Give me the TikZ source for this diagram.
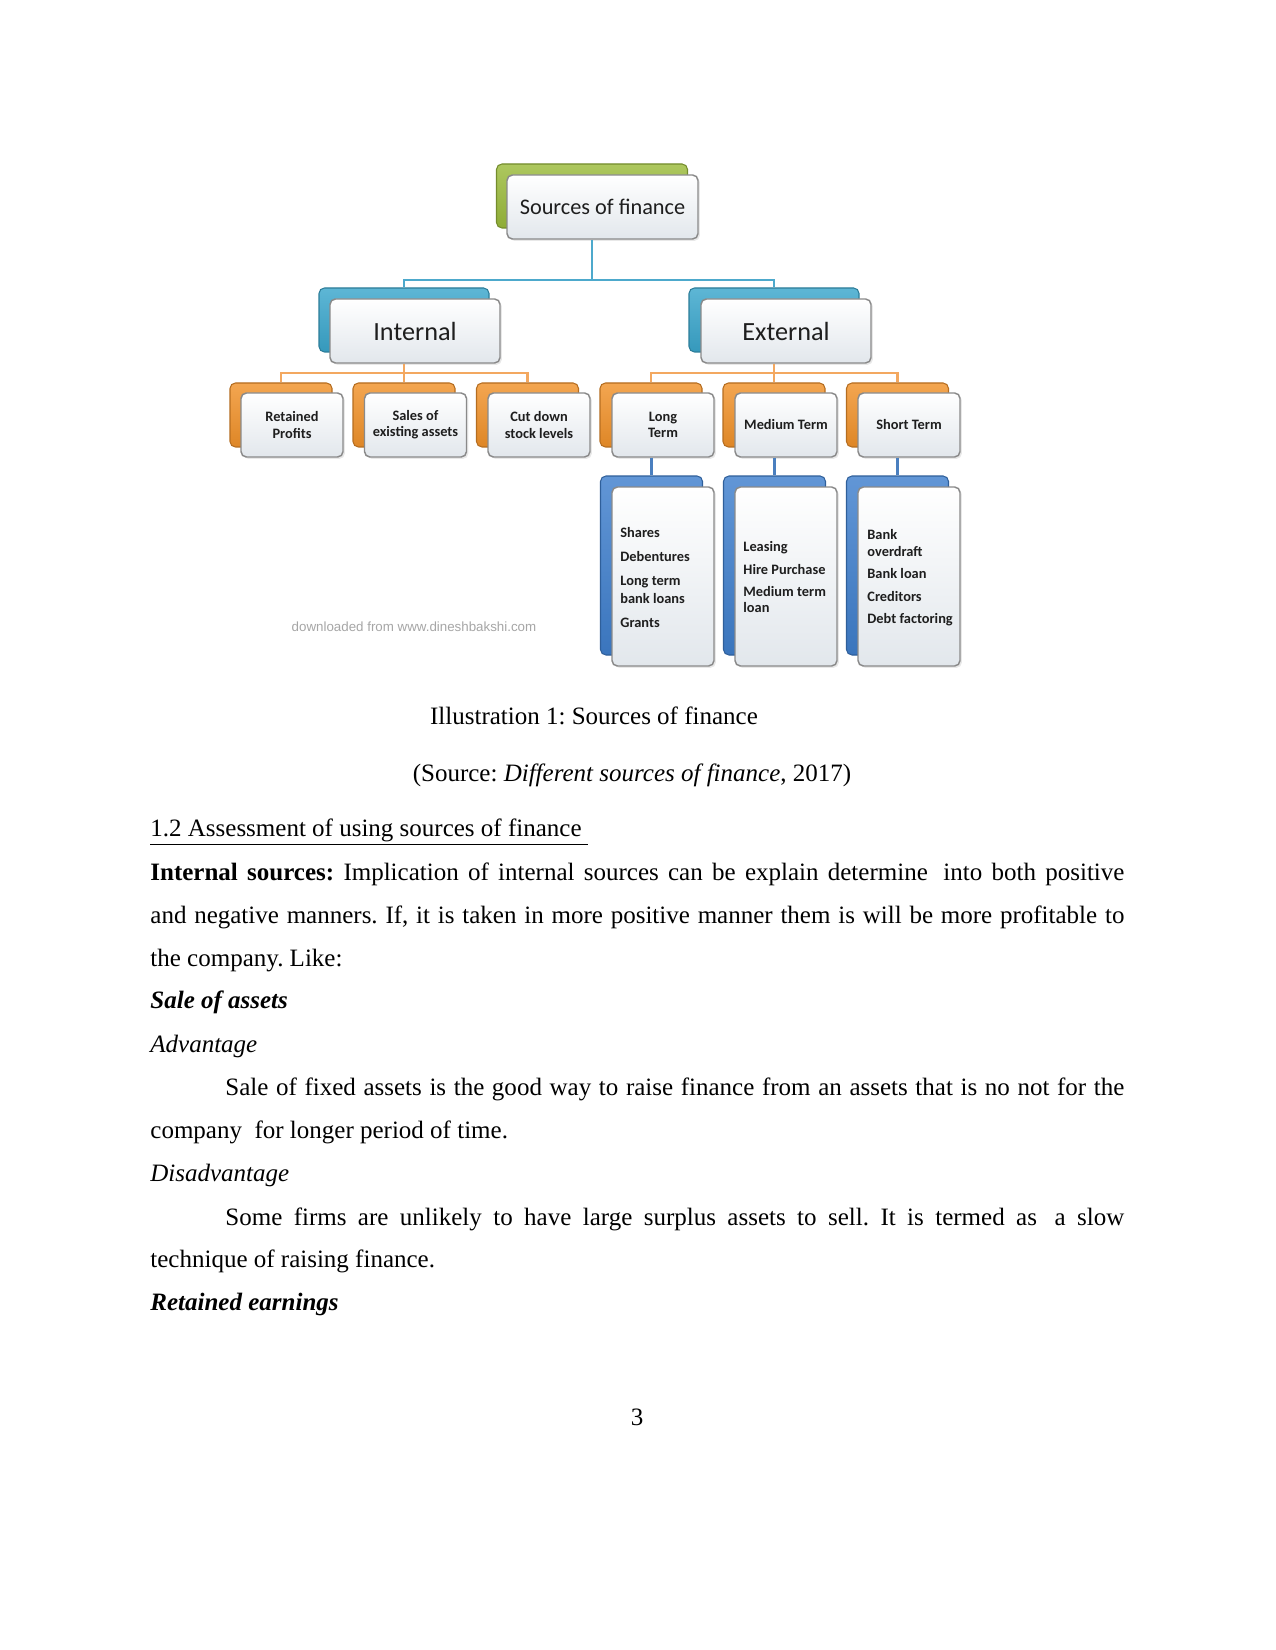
\documentclass[tikz,border=0pt]{standalone}
\usepackage{fontspec}
\setmainfont{Liberation Serif}
\newfontfamily\diagfont{Carlito}
\newfontfamily\wmfont{Liberation Sans}
\usetikzlibrary{shadows,calc}
\frenchspacing
\definecolor{grn}{HTML}{9BBB3B}
\definecolor{cyanb}{HTML}{3AA6CC}
\definecolor{orng}{HTML}{F1922A}
\definecolor{dblue}{HTML}{3F7FCD}
\definecolor{fdraw}{HTML}{8A8A8A}
\definecolor{fbot}{HTML}{E2E7EC}
\definecolor{lcyan}{HTML}{4DA9CC}
\definecolor{lorng}{HTML}{F3A860}
\definecolor{lblue}{HTML}{4A7FBF}
\definecolor{txt}{HTML}{1E1E1E}
\tikzset{
  backbox/.style={rounded corners=2.6pt, inner sep=0pt, draw=#1!75!black, line width=0.5pt,
    top color=#1!82!white, bottom color=#1!92!black},
  frontbox/.style={rounded corners=2.6pt, inner sep=0pt, draw=fdraw, line width=0.7pt,
    top color=white, bottom color=fbot, align=center, text=txt,
    drop shadow={opacity=0.18, shadow xshift=0.9pt, shadow yshift=-0.9pt}},
  big/.style={minimum width=191*0.48pt, minimum height=64*0.48pt},
  mid/.style={minimum width=170*0.48pt, minimum height=64*0.48pt},
  small/.style={minimum width=102*0.48pt, minimum height=64*0.48pt},
  tall/.style={minimum width=102*0.48pt, minimum height=179*0.48pt},
  smallfont/.style={font={\diagfont\bfseries\fontsize{6.9pt}{7.7pt}\selectfont}},
  item/.style={anchor=base west, inner sep=0pt, text=txt, font={\diagfont\bfseries\fontsize{6.9pt}{7.7pt}\selectfont}},
  conn/.style={draw=#1, line width=1pt},
  body/.style={anchor=base west, inner sep=0pt, font=\fontsize{12pt}{14pt}\selectfont},
}
\begin{document}
\begin{tikzpicture}[x=0.48pt,y=-0.48pt]
\fill[white] (0,0) rectangle (1275,1650);
\useasboundingbox (0,0) rectangle (1275,1650);

% top level
\node[backbox=grn, big] (srcB) at (592,196) {};
\node[frontbox, big, font={\diagfont\fontsize{10.7pt}{12pt}\selectfont}] (src) at (602.5,207) {Sources of finance};

\node[backbox=cyanb, mid] (intB) at (404,320) {};
\node[frontbox, mid, font={\diagfont\fontsize{12.6pt}{14pt}\selectfont}] (int) at (415,331) {Internal};
\node[backbox=cyanb, mid] (extB) at (774,320) {};
\node[frontbox, mid, font={\diagfont\fontsize{12.6pt}{14pt}\selectfont}] (ext) at (786,331) {External};

% orange level
\node[backbox=orng, small] (retB) at (281,415) {};
\node[frontbox, small, smallfont] (ret) at (292,425) {Retained\\Profits};
\node[backbox=orng, small] (salB) at (404,415) {};
\node[frontbox, small, smallfont] (sal) at (415.5,425) {Sales of\\existing assets};
\node[backbox=orng, small] (cutB) at (527.5,415) {};
\node[frontbox, small, smallfont] (cut) at (539,425) {Cut down\\stock levels};
\node[backbox=orng, small] (lngB) at (651,415) {};
\node[frontbox, small, smallfont] (lng) at (663,425) {Long\\Term};
\node[backbox=orng, small] (medB) at (774,415) {};
\node[frontbox, small, smallfont] (med) at (786,425) {Medium Term};
\node[backbox=orng, small] (shtB) at (897.5,415) {};
\node[frontbox, small, smallfont] (sht) at (909,425) {Short Term};

% blue level
\node[backbox=dblue, tall] (lnglB) at (651.5,565.5) {};
\node[frontbox, tall] (lngl) at (663,576.5) {};
\node[backbox=dblue, tall] (medlB) at (774.5,565.5) {};
\node[frontbox, tall] (medl) at (786,576.5) {};
\node[backbox=dblue, tall] (shtlB) at (897.5,565.5) {};
\node[frontbox, tall] (shtl) at (909,576.5) {};

\node[item] (l1) at (620,537) {Shares};
\node[item] (l2) at (620,561) {Debentures};
\node[item] (l3) at (620,585) {Long term};
\node[item] (l4) at (620,603) {bank loans};
\node[item] (l5) at (620,627) {Grants};

\node[item] (m1) at (743,551) {Leasing};
\node[item] (m2) at (743,574) {Hire Purchase};
\node[item] (m3) at (743,596) {Medium term};
\node[item] (m4) at (743,612) {loan};

\node[item] (s1) at (867,539) {Bank};
\node[item] (s2) at (867,556) {overdraft};
\node[item] (s3) at (867,578) {Bank loan};
\node[item] (s4) at (867,601) {Creditors};
\node[item] (s5) at (867,623) {Debt factoring};

% connectors
\coordinate (j0) at (592,280);
\coordinate (j1) at (404,373);
\coordinate (j2) at (774,373);
\draw[conn=lcyan] (srcB.center |- src.south) -- (j0);
\draw[conn=lcyan] (intB.north) |- (j0) -| (extB.north);
\draw[conn=lorng] (intB.center |- int.south) -- (j1);
\draw[conn=lorng] (retB.north) |- (j1) -| (cutB.north);
\draw[conn=lorng] (salB.north) -- (j1);
\draw[conn=lorng] (extB.center |- ext.south) -- (j2);
\draw[conn=lorng] (lngB.north) |- (j2) -| (shtB.north);
\draw[conn=lorng] (medB.north) -- (j2);
\draw[conn=lblue] (lnglB.center |- lng.south) -- (lnglB.north);
\draw[conn=lblue] (medlB.center |- med.south) -- (medlB.north);
\draw[conn=lblue] (shtlB.center |- sht.south) -- (shtlB.north);

\node[inner sep=0pt, text=gray!70, font={\wmfont\fontsize{6.4pt}{7pt}\selectfont}] (wm) at (414,627) {downloaded from www.dineshbakshi.com};

% body text
\node[anchor=base, inner sep=0pt, font=\fontsize{12pt}{14pt}\selectfont] (cap) at (594,724) {Illustration 1: Sources of finance};
\node[anchor=base, inner sep=0pt, font=\fontsize{12pt}{14pt}\selectfont] (srcline) at (632,781) {(Source: \textit{Different sources of finance}, 2017)};
\node[body] (head) at (150,836) {\underline{1.2 Assessment of using sources of finance\ }};
\node[body] (p1) at (150,880) {\makebox[467.5pt][s]{\textbf{Internal sources:} Implication of internal sources can be explain determine\hspace{0.25em} into both positive}};
\node[body] (p2) at (150,923) {\makebox[467.5pt][s]{and negative manners. If, it is taken in more positive manner them is will be more profitable to}};
\node[body] (p3) at (150,966) {the company. Like:};
\node[body] (p4) at (150,1008) {\textbf{\textit{Sale of assets}}};
\node[body] (p5) at (150,1052) {\textit{Advantage}};
\node[body] (p6) at (225,1095) {\makebox[431.5pt][s]{Sale of fixed assets is the good way to raise finance from an assets that is no not for the}};
\node[body] (p7) at (150,1138) {company\ \ for longer period of time.};
\node[body] (p8) at (150,1181) {\textit{Disadvantage}};
\node[body] (p9) at (225,1225) {\makebox[431.5pt][s]{Some firms are unlikely to have large surplus assets to sell. It is termed as\hspace{0.25em} a slow}};
\node[body] (p10) at (150,1267) {technique of raising finance.};
\node[body] (p11) at (150,1310) {\textbf{\textit{Retained earnings}}};
\node[anchor=base, inner sep=0pt, font=\fontsize{12pt}{14pt}\selectfont] (pg) at (637,1425) {3};
\end{tikzpicture}
\end{document}
